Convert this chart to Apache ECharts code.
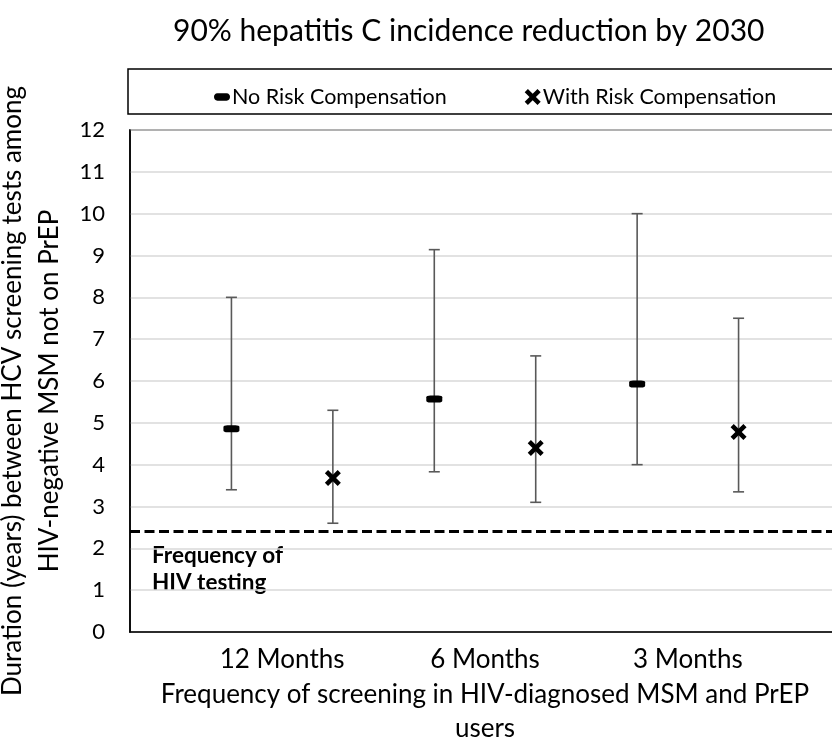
<!DOCTYPE html>
<html>
<head>
<meta charset="utf-8">
<script src="https://cdn.jsdelivr.net/npm/echarts@6/dist/echarts.min.js"></script>
<style>html,body{margin:0;padding:0;background:#fff}#c{width:832px;height:742px}</style>
</head>
<body>
<div id="c"></div>
<script>
var categories = ['12 Months', '6 Months', '3 Months'];
var noRC = [4.86, 5.57, 5.93];
var noRCLow = [3.4, 3.83, 4.0];
var noRCHigh = [8.0, 9.14, 10.0];
var withRC = [3.68, 4.4, 4.78];
var withRCLow = [2.6, 3.1, 3.35];
var withRCHigh = [5.3, 6.6, 7.5];
var hivTesting = 2.4;

var FONT = 'Lato, "Open Sans", sans-serif';
var xMark = 'path://M2,0 L5,3 L8,0 L10,2 L7,5 L10,8 L8,10 L5,7 L2,10 L0,8 L3,5 L0,2 Z';
var dashMark = 'path://M0,3.2 C0,1.6 1,0 3,0 L11,0 C13,0 14,1.6 14,3.2 C14,4.8 13,6.4 11,6.4 L3,6.4 C1,6.4 0,4.8 0,3.2 Z';

// x positions: category i -> 2i+1 (no RC), 2i+2 (with RC)
function pos(i, s) { return 2 * i + 1 + s; }
var noRCPts = noRC.map(function (v, i) { return [pos(i, 0), v]; });
var withRCPts = withRC.map(function (v, i) { return [pos(i, 1), v]; });
var noRCErr = noRC.map(function (v, i) { return [pos(i, 0), noRCLow[i], noRCHigh[i]]; });
var withRCErr = withRC.map(function (v, i) { return [pos(i, 1), withRCLow[i], withRCHigh[i]]; });
var labelPos = categories.map(function (c, i) { return 2 * i + 1.5; });

function errItem(params, api) {
  var x = api.value(0);
  var lo = api.coord([x, api.value(1)]);
  var hi = api.coord([x, api.value(2)]);
  var w = 5.5;
  var st = { stroke: '#595959', lineWidth: 1.6 };
  return {
    type: 'group',
    children: [
      { type: 'line', shape: { x1: lo[0], y1: lo[1], x2: hi[0], y2: hi[1] }, style: st },
      { type: 'line', shape: { x1: lo[0] - w, y1: lo[1], x2: lo[0] + w, y2: lo[1] }, style: st },
      { type: 'line', shape: { x1: hi[0] - w, y1: hi[1], x2: hi[0] + w, y2: hi[1] }, style: st }
    ]
  };
}

var chart = echarts.init(document.getElementById('c'), null, { renderer: 'canvas' });
chart.setOption({
  animation: false,
  backgroundColor: '#fff',
  title: {
    text: '90% hepatitis C incidence reduction by 2030',
    left: 168, top: 11,
    textStyle: { fontFamily: FONT, fontSize: 30, fontWeight: 'normal', color: '#000' }
  },
  legend: {
    left: 209, top: 81,
    itemGap: 78, itemWidth: 16, itemHeight: 16,
    textStyle: { fontFamily: FONT, fontSize: 21.5, color: '#000', padding: [0, 0, 0, -3] },
    data: [
      { name: 'No Risk Compensation', icon: dashMark },
      { name: 'With Risk Compensation', icon: xMark }
    ]
  },
  graphic: [
    { type: 'rect', shape: { x: 128, y: 69, width: 720, height: 45 }, style: { fill: 'none', stroke: '#000', lineWidth: 1.5 } },
    { type: 'text', left: 152, top: 542, style: { text: 'Frequency of\nHIV testing', font: 'bold 22.5px ' + FONT, fill: '#000', lineHeight: 27 } }
  ],
  grid: { left: 130, top: 130, width: 710, height: 502, show: true, borderColor: '#000', borderWidth: 1.5, backgroundColor: 'transparent', containLabel: false, outerBoundsMode: 'none' },
  xAxis: {
    type: 'value', min: 0, max: 7,
    splitLine: { show: false },
    axisLine: { show: true, lineStyle: { color: '#000', width: 1.5 } },
    axisTick: { show: false },
    axisLabel: {
      customValues: labelPos,
      formatter: function (v) { return categories[Math.round((v - 1.5) / 2)]; },
      fontFamily: FONT, fontSize: 26, color: '#000', margin: 15
    },
    name: 'Frequency of screening in HIV-diagnosed MSM and PrEP\nusers',
    nameLocation: 'middle', nameGap: 45,
    nameTextStyle: { fontFamily: FONT, fontSize: 26, color: '#000', lineHeight: 34 }
  },
  yAxis: {
    type: 'value', min: 0, max: 12, interval: 1,
    axisLine: { show: true, lineStyle: { color: '#000', width: 1.5 } },
    axisTick: { show: false },
    splitLine: { lineStyle: { color: '#d9d9d9', width: 1.5 } },
    axisLabel: { fontFamily: FONT, fontSize: 22, color: '#000', margin: 25 },
    name: 'Duration (years) between HCV screening tests among\nHIV-negative MSM not on PrEP',
    nameLocation: 'middle', nameGap: 53, nameRotate: 90,
    nameTextStyle: { fontFamily: FONT, fontSize: 26, color: '#000', lineHeight: 37, padding: [0, 20, 0, 0] }
  },
  series: [
    {
      name: 'noRCErr', type: 'custom', renderItem: errItem, data: noRCErr, z: 2,
      encode: { x: 0, y: [1, 2] }, silent: true
    },
    {
      name: 'withRCErr', type: 'custom', renderItem: errItem, data: withRCErr, z: 2,
      encode: { x: 0, y: [1, 2] }, silent: true
    },
    {
      name: 'No Risk Compensation', type: 'scatter', data: noRCPts, z: 3,
      symbol: 'roundRect', symbolSize: [16, 7], itemStyle: { color: '#000', opacity: 1 },
      markLine: {
        silent: true, symbol: 'none', label: { show: false },
        lineStyle: { color: '#000', type: [10, 4.5], width: 3 },
        data: [{ yAxis: hivTesting }]
      }
    },
    {
      name: 'With Risk Compensation', type: 'scatter', data: withRCPts, z: 3,
      symbol: xMark, symbolSize: 16, itemStyle: { color: '#000', opacity: 1 }
    }
  ]
});
</script>
</body>
</html>
